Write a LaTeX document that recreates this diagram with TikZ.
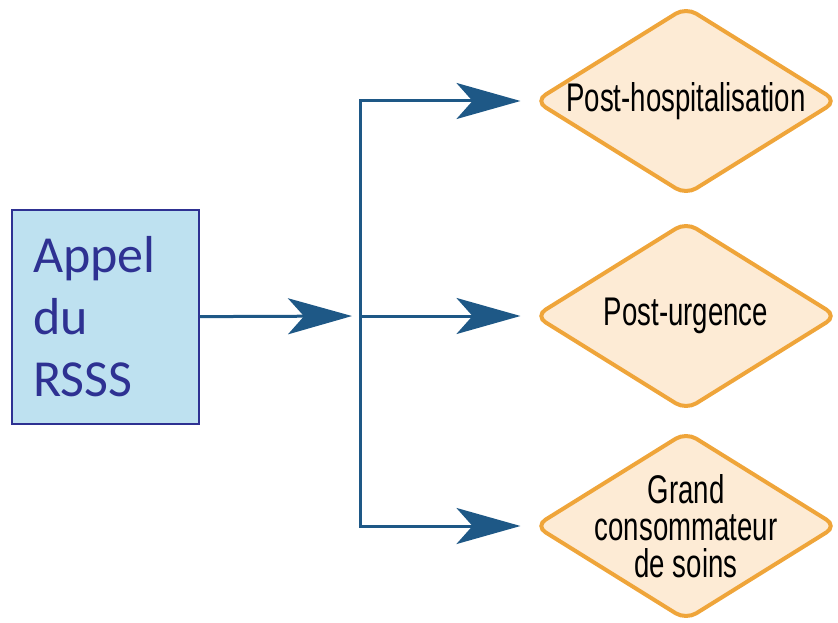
\documentclass[tikz,border=0pt]{standalone}
\usepackage{fontspec}
\setmainfont{Carlito}
\newfontfamily\narrowfont[FakeStretch=0.69]{Liberation Sans}
\usetikzlibrary{shapes.geometric,arrows.meta}

\definecolor{callFill}{RGB}{190,225,240}
\definecolor{callBlue}{RGB}{46,49,146}
\definecolor{flowBlue}{RGB}{30,88,134}
\definecolor{critFill}{RGB}{253,235,213}
\definecolor{critLine}{RGB}{239,165,58}

\begin{document}
\begin{tikzpicture}[x=1pt,y=-1pt]
\tikzstyle{call}=[rectangle,draw=callBlue,fill=callFill,line width=1.5pt,minimum width=187pt,minimum height=214pt,inner xsep=21pt,text width=145pt,align=left,text=callBlue,font=\fontsize{52}{62}\selectfont]
\tikzstyle{crit}=[diamond,draw=critLine,fill=critFill,line width=4pt,rounded corners=12pt,minimum width=303pt,minimum height=189pt,inner xsep=-150pt,inner ysep=-60pt,align=center,font=\narrowfont\fontsize{40}{37}\selectfont]
\tikzstyle{flow}=[draw=flowBlue,line width=3pt,-{Stealth[length=64pt,width=36pt,inset=16pt,fill=flowBlue]}]

\useasboundingbox (0,0) rectangle (838,623);

\node[call] (appel) at (105.5,317) {Appel\\du\\RSSS};
\coordinate (split) at (360,316);

\node[crit] (postHosp)  at (686,101) {Post-hospitalisation};
\node[crit] (postUrg)   at (686,316) {Post-urgence};
\node[crit] (grandCons) at (686,526) {Grand\\consommateur\\de soins};

\draw[flow,shorten >=8pt] (appel) -- (split);
\draw[flow,shorten >=12pt] (split) |- (postHosp);
\draw[flow,shorten >=12pt] (split) -- (postUrg);
\draw[flow,shorten >=12pt] (split) |- (grandCons);

\end{tikzpicture}
\end{document}
